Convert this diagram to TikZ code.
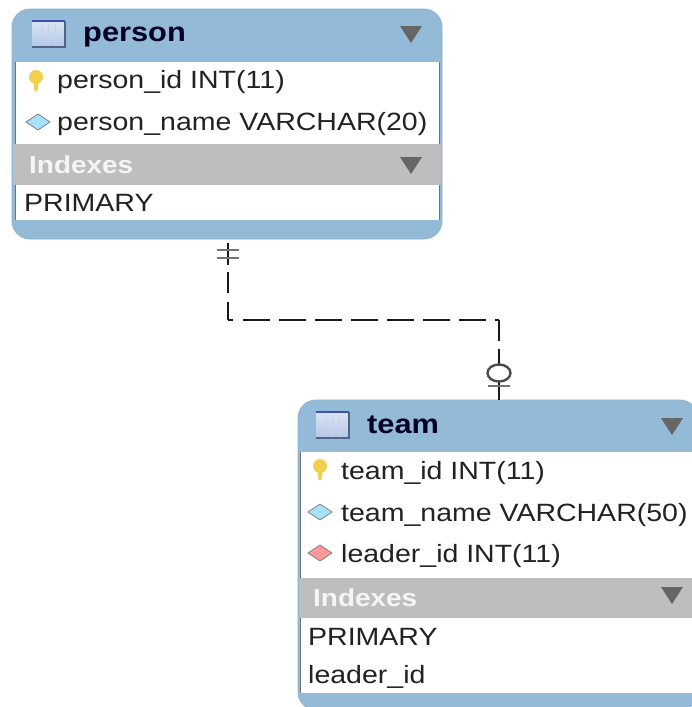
\documentclass[tikz,border=0pt]{standalone}
\usepackage{fontspec}
\newfontfamily\lab[FakeStretch=1.14]{Liberation Sans}
\definecolor{hdr}{HTML}{93BAD7}
\definecolor{grayband}{HTML}{BEBEBE}
\definecolor{arrowgray}{HTML}{666666}
\definecolor{ink}{HTML}{222222}
\definecolor{icontop}{HTML}{DCE6F4}
\definecolor{iconbot}{HTML}{B4C6E6}
\definecolor{iconline}{HTML}{C6D2EA}
\definecolor{icondark}{HTML}{3C50B4}
\definecolor{iconedge}{HTML}{506488}
\definecolor{keyc}{HTML}{F2D04E}
\tikzset{
  x=1pt,y=-1pt,
  tablebox/.style={fill=hdr,draw=hdr!85!gray,line width=0.8pt,rounded corners=18pt,anchor=north west,inner sep=0pt,outer sep=0pt},
  band/.style={fill=white,draw=none},
  rowtext/.style={anchor=base west,inner sep=0pt,text=ink,font=\lab\fontsize{25}{25}\selectfont},
  titletext/.style={anchor=base west,inner sep=0pt,text=black!85!blue,font=\lab\bfseries\fontsize{27}{27}\selectfont},
  idxtext/.style={anchor=base west,inner sep=0pt,text=white!92!gray,font=\lab\bfseries\fontsize{24.5}{24.5}\selectfont},
  conn/.style={line width=2pt,draw=black!90},
  bar/.style={line width=2.8pt,draw=black!55},
  tri/.style={fill=arrowgray,draw=none},
  sidebar/.style={draw=black!55,line width=1pt},
}
\newcommand{\tableicon}[2]{%
  \shade[top color=icontop,bottom color=iconbot] (#1,#2) rectangle ++(33,27);
  \draw[iconline,line width=1pt] (#1+10,#2+4)--++(0,21) (#1+16,#2+4)--++(0,21) (#1+23,#2+4)--++(0,21);
  \draw[icondark,line width=2pt] (#1,#2+1)--++(33,0);
  \draw[iconedge,line width=1.5pt] (#1,#2+27)--++(33,0)--++(0,-26);
}
\newcommand{\keyicon}[2]{%
  \fill[keyc] (#1-3,#2)--(#1+3,#2)--(#1+1.5,#2+13)--(#1-1.5,#2+13)--cycle;
  \fill[keyc] (#1,#2-1) ellipse (7 and 7);
}
\newcommand{\diamondicon}[3]{%
  \fill[#3,draw=gray,line width=0.8pt] (#1-12,#2)--(#1,#2-8)--(#1+12,#2)--(#1,#2+8)--cycle;
}
\newcommand{\triangleicon}[2]{%
  \fill[tri] (#1-11,#2-8)--(#1+11,#2-8)--(#1,#2+9)--cycle;
}
\begin{document}
\begin{tikzpicture}
\useasboundingbox (0,0) rectangle (692,707);
\clip (0,0) rectangle (692,707);
\fill[white] (0,0) rectangle (692,707);

% person table
\node[tablebox,minimum width=430pt,minimum height=230pt] (person) at (12,9) {};
\fill[band] (15,62) rectangle (439,220);
\fill[grayband] (13,144) rectangle (441,185);
\draw[sidebar] (15,62)--(15,144) (439,62)--(439,144) (15,185)--(15,220) (439,185)--(439,220);
\tableicon{32}{20}
\node[titletext] (ptitle) at (83,41) {person};
\triangleicon{411}{34}
\keyicon{36}{78}
\node[rowtext] (pid) at (57,88) {person\_id INT(11)};
\diamondicon{38}{122}{cyan!35!white}
\node[rowtext] (pname) at (57,130) {person\_name VARCHAR(20)};
\node[idxtext] (pidx) at (29,173) {Indexes};
\triangleicon{411}{165}
\node[rowtext] (pprim) at (24,211) {PRIMARY};

% team table
\node[tablebox,minimum width=400pt,minimum height=310pt] (team) at (298,400) {};
\fill[band] (301,452) rectangle (700,693);
\fill[grayband] (299,578) rectangle (700,618);
\draw[sidebar] (300,452)--(300,578) (300,618)--(300,693);
\tableicon{316}{411}
\node[titletext] (ttitle) at (367,433) {team};
\triangleicon{672}{426}
\keyicon{320}{467}
\node[rowtext] (tid) at (341,479) {team\_id INT(11)};
\diamondicon{320}{512}{cyan!35!white}
\node[rowtext] (tname) at (341,521) {team\_name VARCHAR(50)};
\diamondicon{320}{553}{red!40!white}
\node[rowtext] (lid) at (341,562) {leader\_id INT(11)};
\node[idxtext] (tidx) at (313,606) {Indexes};
\triangleicon{672}{595}
\node[rowtext] (tprim) at (308,645) {PRIMARY};
\node[rowtext] (tlead) at (308,683) {leader\_id};

% relationship
\coordinate (ps) at (228,243);
\coordinate (c1) at (228,320);
\coordinate (c2) at (499,320);
\coordinate (ts) at (team.north -| c2);
\draw[conn,dash pattern=on 22pt off 7pt on 21pt off 9pt] (ps) -- (c1);
\draw[conn,dash pattern=on 5pt off 10pt on 27pt off 9pt on 27pt off 9pt on 27pt off 9pt on 27pt off 9pt on 27pt off 9pt on 27pt off 9pt on 27pt off 9pt on 28pt off 9pt] (c1) -- (c2);
\draw[conn,dash pattern=on 21pt off 8pt on 80pt off 1pt] (c2) -- (ts);
\draw[bar] (217,250)--(239,250) (217,258)--(239,258);
\draw[conn,fill=white,draw=black!70,line width=2.4pt] (499,373) ellipse (11.5 and 8.5);
\draw[bar] (488,386)--(510,386);
\end{tikzpicture}
\end{document}
